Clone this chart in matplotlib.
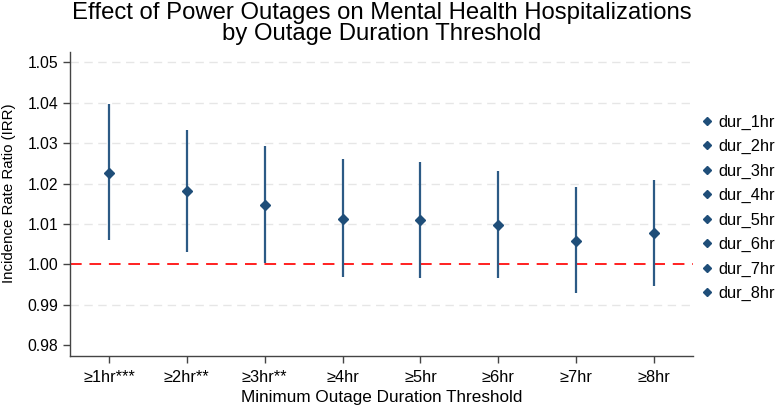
import matplotlib
matplotlib.use("Agg")
import matplotlib.pyplot as plt
from matplotlib.lines import Line2D

plt.rcParams['font.family'] = ['Liberation Sans', 'DejaVu Sans']

labels = ["≥1hr***", "≥2hr**", "≥3hr**", "≥4hr", "≥5hr", "≥6hr", "≥7hr", "≥8hr"]
series = ["dur_1hr", "dur_2hr", "dur_3hr", "dur_4hr", "dur_5hr", "dur_6hr", "dur_7hr", "dur_8hr"]
irr = [1.0227, 1.0181, 1.0147, 1.0113, 1.0109, 1.0097, 1.0059, 1.0078]
ci_low = [1.0060, 1.0031, 1.0004, 0.9969, 0.9965, 0.9965, 0.9930, 0.9947]
ci_high = [1.0396, 1.0334, 1.0292, 1.0260, 1.0254, 1.0231, 1.0192, 1.0210]
yticks = [0.98, 0.99, 1.00, 1.01, 1.02, 1.03, 1.04, 1.05]

color = '#1f4e79'

fig = plt.figure(figsize=(7.81, 4.09), dpi=100)
ax = fig.add_axes([70/781, 1-356/409, (693-70)/781, (356-52)/409])

for i, (v, lo, hi) in enumerate(zip(irr, ci_low, ci_high)):
    ax.vlines(i, lo, hi, color='#2c5a85', lw=1.6, zorder=3)
    ax.plot(i, v, marker='D', ms=5.5, color=color, zorder=4, label=series[i])

ax.axhline(1.0, color='#ff2020', lw=1.4, ls=(0, (6, 4)), zorder=2)
for t in yticks:
    if t not in (0.98, 1.00):
        ax.axhline(t, color='#e6e6e6', lw=1.0, ls=(0, (6, 4)), zorder=1)

ax.set_xlim(-0.5, 7.5)
ax.set_ylim(0.9773, 1.0526)
ax.set_xticks(range(len(labels)))
ax.set_xticklabels(labels, fontsize=11.8)
ax.set_yticks(yticks)
ax.set_yticklabels([f"{t:.2f}" for t in yticks], fontsize=11.3)
for s in ['top', 'right']:
    ax.spines[s].set_visible(False)
for s in ['left', 'bottom']:
    ax.spines[s].set_color('#444444')
    ax.spines[s].set_linewidth(1.0)
ax.tick_params(axis='both', colors='#444444', labelcolor='black', length=5, width=1)
ax.tick_params(axis='x', pad=5)
ax.set_ylabel("Incidence Rate Ratio (IRR)", fontsize=10.8)
ax.yaxis.set_label_coords(-0.087, 0.535)
ax.set_xlabel("Minimum Outage Duration Threshold", fontsize=12.3, labelpad=4)

handles = [Line2D([], [], marker='D', ms=4.5, color=color, ls='none') for _ in series]
leg = fig.legend(handles, series, loc='upper left', bbox_to_anchor=(691/781, 1-108/409),
                 frameon=False, fontsize=11.8, handletextpad=0.1, labelspacing=0.57,
                 handlelength=1.2, borderaxespad=0)

fig.text(381.5/781, 1-2/409, "Effect of Power Outages on Mental Health Hospitalizations\nby Outage Duration Threshold",
         ha='center', va='top', fontsize=17.2, linespacing=0.95)

fig.savefig("out.png", dpi=100)
